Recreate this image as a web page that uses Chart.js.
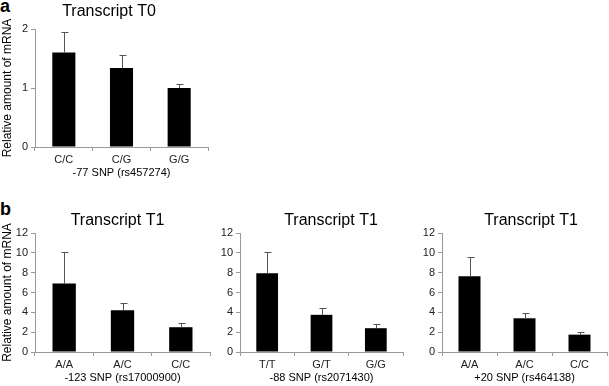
<!DOCTYPE html>
<html>
<head>
<meta charset="utf-8">
<script src="https://cdn.jsdelivr.net/npm/chart.js@4"></script>
<style>
  html, body { margin: 0; padding: 0; background: #fff; }
  body { width: 609px; height: 386px; position: relative; overflow: hidden; }
  canvas { position: absolute; }
  .tag { position: absolute; left: 0; font: bold 18px "Liberation Sans", Arial, sans-serif; line-height: 18px; color: #000; }
</style>
</head>
<body>
<div class="tag" style="top:-3px">a</div>
<div class="tag" style="top:200px">b</div>
<canvas id="chart-t0" width="218" height="180" style="left:0;top:0"></canvas>
<canvas id="chart-123" width="235" height="185" style="left:0;top:200px"></canvas>
<canvas id="chart-88" width="252" height="185" style="left:205px;top:200px"></canvas>
<canvas id="chart-20" width="248" height="185" style="left:407px;top:200px"></canvas>
<script>
// values (mean and upper error)
var t0Genotypes = ['C/C', 'C/G', 'G/G'];
var t0Means = [1.6, 1.34, 1.0];
var t0Errors = [0.35, 0.22, 0.06];

var snp123Genotypes = ['A/A', 'A/C', 'C/C'];
var snp123Means = [6.9, 4.2, 2.5];
var snp123Errors = [3.15, 0.78, 0.38];

var snp88Genotypes = ['T/T', 'G/T', 'G/G'];
var snp88Means = [7.95, 3.75, 2.4];
var snp88Errors = [2.15, 0.72, 0.45];

var snp20Genotypes = ['A/A', 'A/C', 'C/C'];
var snp20Means = [7.65, 3.4, 1.75];
var snp20Errors = [1.95, 0.55, 0.3];

var yTicksT0 = [0, 1, 2];
var yTicksT1 = [0, 2, 4, 6, 8, 10, 12];

var yTitle = 'Relative amount of mRNA';

Chart.defaults.font.family = '"Liberation Sans", Arial, sans-serif';
Chart.defaults.color = '#222';

// draws the upper whisker with a small cap on every bar
var errorBarPlugin = {
    id: 'errorBars',
    afterDatasetsDraw: function(chart, args, opts) {
        var ctx = chart.ctx;
        var yScale = chart.scales.y;
        var meta = chart.getDatasetMeta(0);
        var values = chart.data.datasets[0].data;
        var errors = opts.errors || [];
        ctx.save();
        ctx.strokeStyle = '#555';
        ctx.lineWidth = 1;
        meta.data.forEach(function(bar, i) {
            var x = Math.round(bar.x) + 0.5;
            var top = Math.round(yScale.getPixelForValue(values[i] + errors[i])) + 0.5;
            ctx.beginPath();
            ctx.moveTo(x, bar.y);
            ctx.lineTo(x, top);
            ctx.moveTo(x - 3, top);
            ctx.lineTo(x + 4, top);
            ctx.stroke();
        });
        ctx.restore();
    }
};

function makeChart(id, title, labels, values, errors, yTicks, xTitle, showYTitle, titlePad, rightGap) {
    var ctx = document.getElementById(id).getContext('2d');
    return new Chart(ctx, {
        type: 'bar',
        data: {
            labels: labels,
            datasets: [{
                data: values,
                backgroundColor: '#000',
                borderWidth: 0,
                barPercentage: 0.4,
                categoryPercentage: 1
            }]
        },
        plugins: [errorBarPlugin],
        options: {
            responsive: false,
            animation: false,
            devicePixelRatio: 1,
            layout: { padding: 0 },
            plugins: {
                legend: { display: false },
                tooltip: { enabled: false },
                title: {
                    display: true,
                    text: title,
                    color: '#000',
                    font: { size: 16, weight: 'normal' },
                    padding: titlePad
                },
                errorBars: { errors: errors }
            },
            scales: {
                x: {
                    type: 'category',
                    offset: true,
                    grid: { drawOnChartArea: false, drawTicks: true, tickLength: 4, color: '#9a9a9a', offset: true },
                    border: { color: '#9a9a9a' },
                    ticks: { font: { size: 11 }, color: '#222', padding: 2, maxRotation: 0 },
                    title: { display: true, text: xTitle, color: '#000', font: { size: 11 }, padding: 0 },
                    afterFit: function(s) { s.height = 33; }
                },
                y: {
                    min: yTicks[0],
                    max: yTicks[yTicks.length - 1],
                    grid: { drawOnChartArea: false, drawTicks: true, tickLength: 4, color: '#9a9a9a' },
                    border: { color: '#9a9a9a' },
                    ticks: { font: { size: 11 }, color: '#222', padding: 3 },
                    afterBuildTicks: function(s) {
                        s.ticks = yTicks.map(function(v) { return { value: v }; });
                    },
                    title: { display: showYTitle, text: yTitle, color: '#000', font: { size: 12 }, padding: 0 },
                    afterFit: function(s) { s.width = 35; }
                },
                gap: {
                    type: 'linear',
                    position: 'right',
                    display: true,
                    grid: { display: false },
                    border: { display: false },
                    ticks: { display: false },
                    afterFit: function(s) { s.width = rightGap; }
                }
            }
        }
    });
}

makeChart('chart-t0', 'Transcript T0', t0Genotypes, t0Means, t0Errors, yTicksT0,
    '-77 SNP (rs457274)', true, { top: 2.4, bottom: 7.4 }, 10);
makeChart('chart-123', 'Transcript T1', snp123Genotypes, snp123Means, snp123Errors, yTicksT1,
    '-123 SNP (rs17000900)', true, { top: 11.4, bottom: 2.4 }, 25);
makeChart('chart-88', 'Transcript T1', snp88Genotypes, snp88Means, snp88Errors, yTicksT1,
    '-88 SNP (rs2071430)', false, { top: 11.4, bottom: 2.4 }, 54);
makeChart('chart-20', 'Transcript T1', snp20Genotypes, snp20Means, snp20Errors, yTicksT1,
    '+20 SNP (rs464138)', false, { top: 11.4, bottom: 2.4 }, 48);
</script>
</body>
</html>
